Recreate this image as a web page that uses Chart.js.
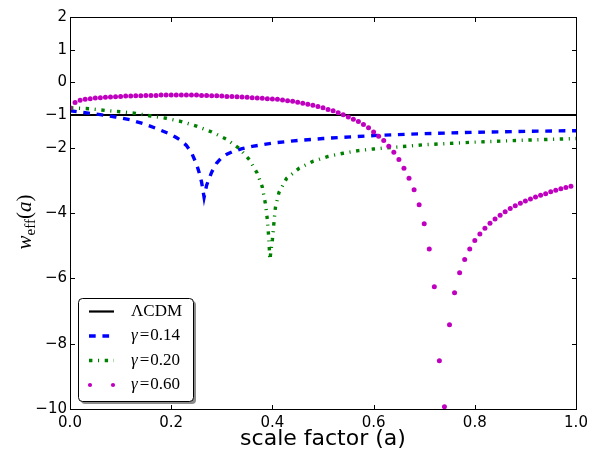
<!DOCTYPE html>
<html>
<head>
<meta charset="utf-8">
<script src="https://cdn.jsdelivr.net/npm/chart.js@4.4.1/dist/chart.umd.min.js"></script>
<style>
  html, body { margin: 0; padding: 0; background: #fff; }
  #wrap { width: 593px; height: 452px; }
</style>
</head>
<body>
<div id="wrap"><canvas id="myChart" width="593" height="452"></canvas></div>
<script>
// tick positions
const xTicks = [0.0, 0.2, 0.4, 0.6, 0.8, 1.0];
const yTicks = [2, 1, 0, -1, -2, -4, -6, -8, -10];

// LCDM: constant w = -1
const lcdmX = [0.0, 1.0];
const lcdmY = [-1, -1];

// gamma = 0.14 (blue dashed)
const g014X = [0.00, 0.03, 0.06, 0.09, 0.12, 0.15, 0.18, 0.20, 0.21, 0.22, 0.23, 0.24, 0.25, 0.255, 0.26, 0.265,
               0.27, 0.275, 0.28, 0.29, 0.30, 0.31, 0.32, 0.34, 0.36, 0.38, 0.40, 0.45, 0.50, 0.60, 0.70, 0.80, 0.90, 1.00];
const g014Y = [-0.87, -0.93, -0.99, -1.06, -1.15, -1.29, -1.47, -1.60, -1.69, -1.79, -1.93, -2.15, -2.50, -2.75, -3.05, -3.52,
               -3.15, -2.95, -2.75, -2.47, -2.30, -2.20, -2.13, -2.03, -1.96, -1.91, -1.86, -1.78, -1.72, -1.63, -1.57, -1.53, -1.50, -1.48];

// gamma = 0.20 (green dash-dot)
const g020X = [0.00, 0.04, 0.07, 0.10, 0.13, 0.16, 0.19, 0.22, 0.25, 0.28, 0.31, 0.335, 0.355, 0.37, 0.38, 0.386, 0.39, 0.393, 0.395,
               0.40, 0.403, 0.406, 0.413, 0.428, 0.453, 0.48, 0.51, 0.54, 0.57, 0.60, 0.70, 0.80, 0.90, 1.00];
const g020Y = [-0.78, -0.81, -0.86, -0.90, -0.95, -1.03, -1.10, -1.20, -1.34, -1.52, -1.75, -2.03, -2.38, -2.78, -3.20, -3.70, -4.20, -4.80, -5.43,
               -4.81, -4.30, -3.83, -3.37, -2.94, -2.63, -2.42, -2.27, -2.17, -2.09, -2.04, -1.91, -1.83, -1.77, -1.72];

// gamma = 0.60 (magenta dots)
const g060X = [0.00, 0.01, 0.02, 0.03, 0.04, 0.05, 0.06, 0.07, 0.08, 0.09,
               0.10, 0.11, 0.12, 0.13, 0.14, 0.15, 0.16, 0.17, 0.18, 0.19,
               0.20, 0.21, 0.22, 0.23, 0.24, 0.25, 0.26, 0.27, 0.28, 0.29,
               0.30, 0.31, 0.32, 0.33, 0.34, 0.35, 0.36, 0.37, 0.38, 0.39,
               0.40, 0.41, 0.42, 0.43, 0.44, 0.45, 0.46, 0.47, 0.48, 0.49,
               0.50, 0.51, 0.52, 0.53, 0.54, 0.55, 0.56, 0.57, 0.58, 0.59,
               0.60, 0.61, 0.62, 0.63, 0.64, 0.65, 0.66, 0.67, 0.68, 0.69,
               0.70, 0.71, 0.72, 0.73, 0.74, 0.75, 0.76, 0.77, 0.78, 0.79,
               0.80, 0.81, 0.82, 0.83, 0.84, 0.85, 0.86, 0.87, 0.88, 0.89,
               0.90, 0.91, 0.92, 0.93, 0.94, 0.95, 0.96, 0.97, 0.98, 0.99];
const g060Y = [-0.78, -0.62, -0.55, -0.52, -0.50, -0.48, -0.47, -0.46, -0.45, -0.44,
               -0.43, -0.42, -0.42, -0.41, -0.41, -0.40, -0.40, -0.40, -0.39, -0.39,
               -0.39, -0.39, -0.39, -0.39, -0.39, -0.39, -0.40, -0.40, -0.41, -0.41,
               -0.42, -0.43, -0.43, -0.44, -0.45, -0.46, -0.47, -0.48, -0.49, -0.50,
               -0.51, -0.52, -0.54, -0.56, -0.58, -0.61, -0.64, -0.67, -0.70, -0.74,
               -0.78, -0.83, -0.87, -0.93, -0.99, -1.06, -1.13, -1.20, -1.29, -1.39,
               -1.52, -1.65, -1.78, -1.96, -2.14, -2.36, -2.63, -2.94, -3.29, -3.75,
               -4.33, -5.10, -6.26, -8.52, -9.93, -7.42, -6.44, -5.83, -5.42, -5.10,
               -4.84, -4.64, -4.47, -4.31, -4.18, -4.07, -3.96, -3.86, -3.78, -3.70,
               -3.63, -3.57, -3.51, -3.46, -3.41, -3.35, -3.30, -3.26, -3.22, -3.18];

const pts = (xs, ys) => xs.map((x, i) => ({ x: x, y: ys[i] }));

// khung + vạch chia hướng vào trong (kiểu matplotlib)
const framePlugin = {
    id: 'frame',
    afterDatasetsDraw(chart) {
        const { ctx, chartArea: a, scales } = chart;
        const L = a.left + 0.5, R = a.right + 0.5, T = a.top + 0.5, B = a.bottom + 0.5;
        const len = 4.5;
        ctx.save();
        ctx.strokeStyle = '#000';
        ctx.lineWidth = 1;
        ctx.beginPath();
        xTicks.forEach(v => {
            const px = Math.round(scales.x.getPixelForValue(v)) + 0.5;
            ctx.moveTo(px, B); ctx.lineTo(px, B - len);
            ctx.moveTo(px, T); ctx.lineTo(px, T + len);
        });
        yTicks.forEach(v => {
            const py = Math.round(scales.y.getPixelForValue(v)) + 0.5;
            ctx.moveTo(L, py); ctx.lineTo(L + len, py);
            ctx.moveTo(R, py); ctx.lineTo(R - len, py);
        });
        ctx.stroke();
        ctx.strokeRect(L, T, R - L, B - T);
        ctx.restore();
    }
};

// nhãn trục + chú giải trong khung bo góc
const textPlugin = {
    id: 'labels',
    afterDraw(chart) {
        const ctx = chart.ctx;
        const a = chart.chartArea;
        ctx.save();
        ctx.fillStyle = '#000';

        // x title
        ctx.font = '22px "DejaVu Sans"';
        ctx.textAlign = 'center';
        ctx.textBaseline = 'middle';
        ctx.fillText('scale factor (a)', (a.left + a.right) / 2, 439);

        // y title: w_eff(a)
        ctx.save();
        ctx.translate(31, 222);
        ctx.rotate(-Math.PI / 2);
        ctx.textAlign = 'left';
        ctx.textBaseline = 'alphabetic';
        const fI = 'italic 21px "Liberation Serif"', fR = '21px "Liberation Serif"', fS = '15px "Liberation Serif"';
        const parts = [['w', fI, 0], ['eff', fS, 4], ['(', fR, 0], ['a', fI, 0], [')', fR, 0]];
        let tw = 0;
        parts.forEach(p => { ctx.font = p[1]; tw += ctx.measureText(p[0]).width; });
        let cx = -tw / 2;
        parts.forEach(p => { ctx.font = p[1]; ctx.fillText(p[0], cx, p[2]); cx += ctx.measureText(p[0]).width; });
        ctx.restore();

        // legend box
        const bx = 78.5, by = 298.5, bw = 115, bh = 103;
        ctx.fillStyle = 'rgba(0,0,0,0.45)';
        ctx.beginPath(); ctx.roundRect(bx + 2.5, by + 2.5, bw, bh, 4); ctx.fill();
        ctx.fillStyle = '#fff';
        ctx.beginPath(); ctx.roundRect(bx, by, bw, bh, 4); ctx.fill();
        ctx.strokeStyle = '#000'; ctx.lineWidth = 1; ctx.stroke();

        const hx0 = 89, hx1 = 114, tx = 131;
        chart.data.datasets.forEach((ds, i) => {
            const y = 311.5 + i * 24.5;
            if (ds.showLine === false) {
                ctx.fillStyle = ds.pointBackgroundColor;
                [hx0 + 1, hx1 - 1].forEach(px => {
                    ctx.beginPath(); ctx.arc(px, y, 2.1, 0, Math.PI * 2); ctx.fill();
                });
            } else {
                ctx.strokeStyle = ds.borderColor;
                ctx.lineWidth = ds.borderWidth;
                ctx.setLineDash(ds.borderDash || []);
                ctx.lineCap = 'butt';
                ctx.beginPath(); ctx.moveTo(hx0, y); ctx.lineTo(hx1, y); ctx.stroke();
                ctx.setLineDash([]);
            }
            ctx.fillStyle = '#000';
            ctx.textBaseline = 'middle';
            ctx.textAlign = 'left';
            let x = tx;
            const lab = ds.label;
            if (lab.charAt(0) === 'γ') {
                ctx.font = 'italic 17px "Liberation Serif"';
                ctx.fillText('γ', x, y);
                x += ctx.measureText('γ').width + 2;
                ctx.font = '17px "Liberation Serif"';
                ctx.fillText('=', x, y);
                x += ctx.measureText('=').width + 1;
                ctx.fillText(lab.slice(2), x, y);
            } else {
                ctx.font = '17px "Liberation Serif"';
                ctx.fillText(lab, x, y);
            }
        });
        ctx.restore();
    }
};

new Chart(document.getElementById('myChart'), {
    type: 'line',
    data: {
        datasets: [
            {
                label: 'ΛCDM',
                data: pts(lcdmX, lcdmY),
                borderColor: '#000000',
                borderWidth: 2.2,
                pointRadius: 0,
                order: 4
            },
            {
                label: 'γ=0.14',
                data: pts(g014X, g014Y),
                borderColor: '#0000ff',
                borderWidth: 3.4,
                borderDash: [6.7, 6.7],
                borderCapStyle: 'butt',
                pointRadius: 0,
                order: 3
            },
            {
                label: 'γ=0.20',
                data: pts(g020X, g020Y),
                borderColor: '#008000',
                borderWidth: 3.4,
                borderDash: [3.4, 5.6, 1.1, 5.6],
                borderCapStyle: 'butt',
                pointRadius: 0,
                order: 2
            },
            {
                label: 'γ=0.60',
                data: pts(g060X, g060Y),
                showLine: false,
                pointRadius: 2.5,
                pointBorderWidth: 0,
                pointBackgroundColor: '#bf00bf',
                pointBorderColor: '#bf00bf',
                order: 1
            }
        ]
    },
    options: {
        responsive: false,
        animation: false,
        devicePixelRatio: 1,
        events: [],
        layout: { padding: { left: 0, top: 17, right: 17, bottom: 0 } },
        plugins: { legend: { display: false }, tooltip: { enabled: false } },
        scales: {
            x: {
                type: 'linear',
                min: 0, max: 1,
                grid: { display: false, drawTicks: false },
                border: { display: false },
                afterBuildTicks: s => { s.ticks = xTicks.map(v => ({ value: v })); },
                afterFit: s => { s.height = 43; s.paddingLeft = 0; s.paddingRight = 0; },
                ticks: {
                    autoSkip: false, maxRotation: 0, padding: 5, color: '#000',
                    font: { family: 'DejaVu Sans', size: 15 },
                    callback: v => v.toFixed(1)
                }
            },
            y: {
                type: 'linear',
                min: -10, max: 2,
                grid: { display: false, drawTicks: false },
                border: { display: false },
                afterBuildTicks: s => { s.ticks = yTicks.map(v => ({ value: v })); },
                afterFit: s => { s.width = 70; s.paddingTop = 0; s.paddingBottom = 0; },
                ticks: {
                    autoSkip: false, padding: 3, color: '#000',
                    font: { family: 'DejaVu Sans', size: 15 },
                    callback: v => (v < 0 ? '\u2212' + Math.abs(v) : String(v))
                }
            }
        }
    },
    plugins: [framePlugin, textPlugin]
});
</script>
</body>
</html>
